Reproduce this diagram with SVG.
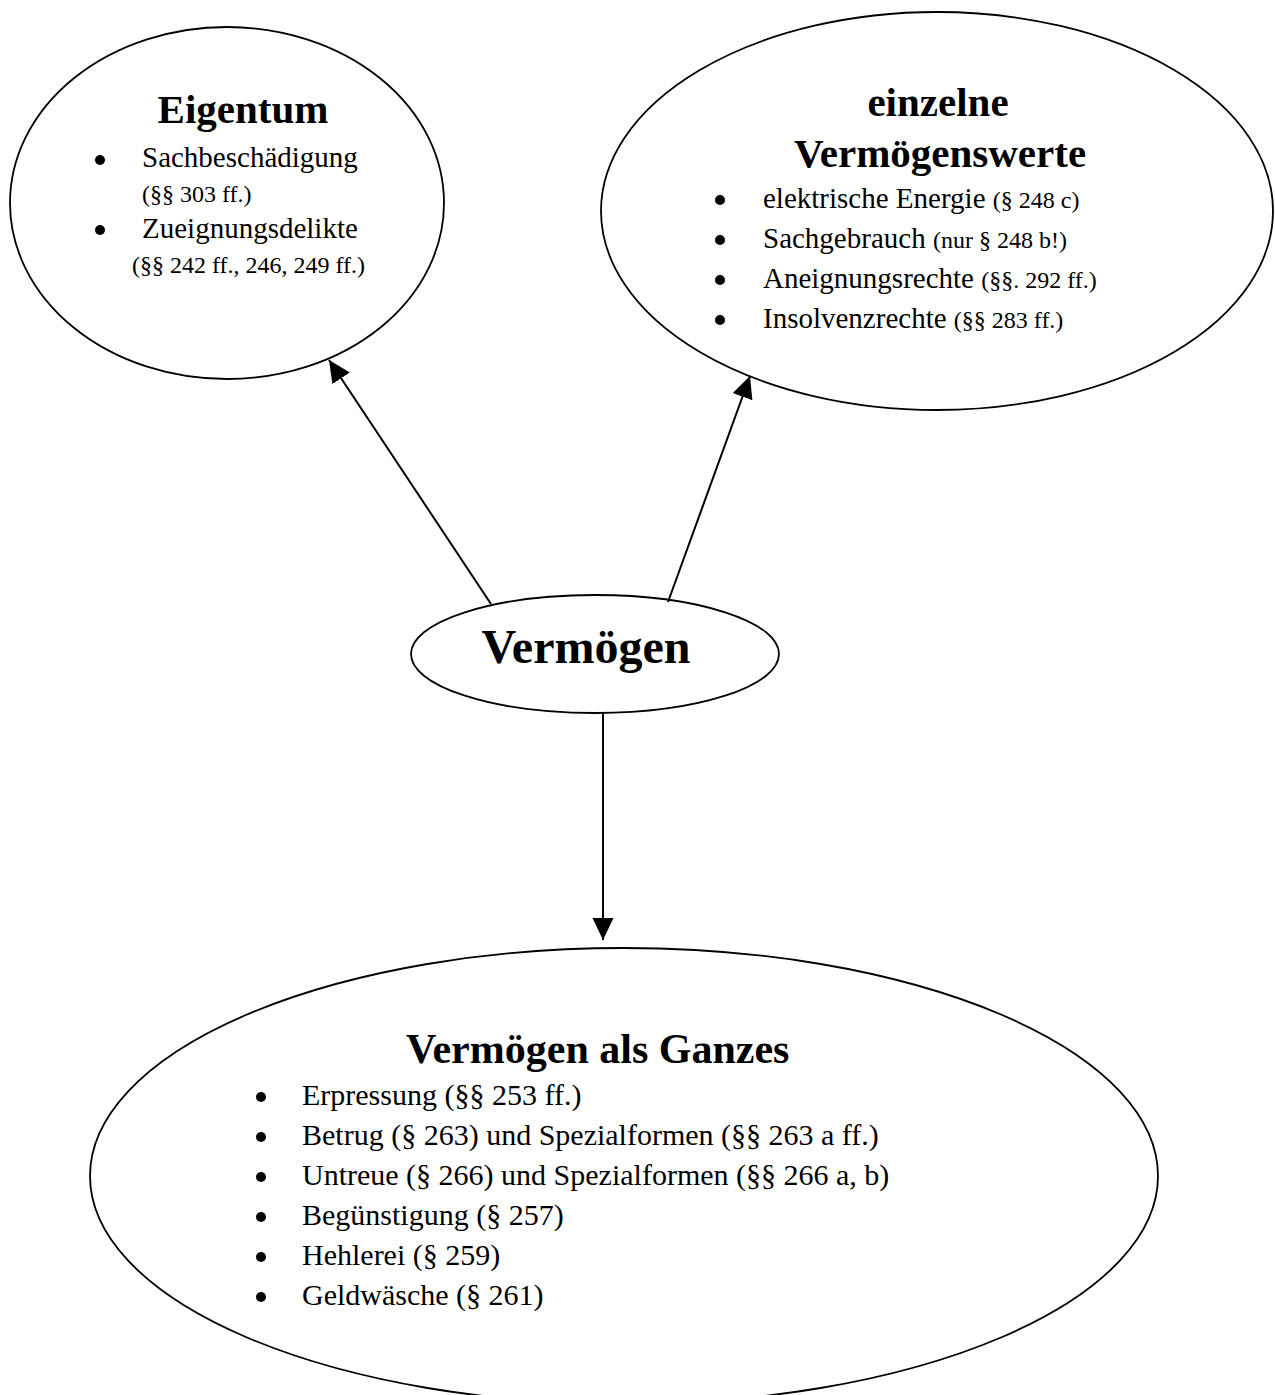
<svg xmlns="http://www.w3.org/2000/svg" width="1275" height="1395" viewBox="0 0 1275 1395">
<style>
.node{fill:#fff;stroke:#000;stroke-width:1.8}
.t{font-family:"Liberation Serif","Times New Roman",serif;fill:#000}
.h{font-weight:bold;font-size:41px}
.m{font-size:29px}
.s{font-size:24px}
.s2{font-size:24px}
.b{font-size:30px}
.edge{stroke:#000;stroke-width:2;fill:none}
</style>
<defs>
<marker id="ah" markerUnits="userSpaceOnUse" markerWidth="24" markerHeight="22" refX="22" refY="10.5" orient="auto">
<path d="M0,0 L22,10.5 L0,21 z" fill="#000"/>
</marker>
</defs>
<rect width="1275" height="1395" fill="#fff"/>
<g id="eigentum">
<ellipse class="node" cx="227" cy="203" rx="217" ry="176"/>
<text class="t h" x="243" y="123" text-anchor="middle">Eigentum</text>
<circle cx="100" cy="160" r="5"/>
<text class="t m" x="142" y="167">Sachbeschädigung</text>
<text class="t s" x="142" y="202">(§§ 303 ff.)</text>
<circle cx="100" cy="230" r="5"/>
<text class="t m" x="142" y="238">Zueignungsdelikte</text>
<text class="t s" x="132" y="273">(§§ 242 ff., 246, 249 ff.)</text>
</g>
<g id="einzelne">
<ellipse class="node" cx="937" cy="211" rx="336" ry="199"/>
<text class="t h" x="938" y="116" text-anchor="middle">einzelne</text>
<text class="t h" x="940" y="167" text-anchor="middle">Vermögenswerte</text>
<circle cx="720" cy="200" r="5"/>
<text class="t m" x="763" y="208">elektrische Energie <tspan class="s2">(§ 248 c)</tspan></text>
<circle cx="720" cy="240" r="5"/>
<text class="t m" x="763" y="248">Sachgebrauch <tspan class="s2">(nur § 248 b!)</tspan></text>
<circle cx="720" cy="280" r="5"/>
<text class="t m" x="763" y="288">Aneignungsrechte <tspan class="s2">(§§. 292 ff.)</tspan></text>
<circle cx="720" cy="320" r="5"/>
<text class="t m" x="763" y="328">Insolvenzrechte <tspan class="s2">(§§ 283 ff.)</tspan></text>
</g>
<g id="vermoegen">
<ellipse class="node" cx="595" cy="654" rx="184" ry="59"/>
<text class="t" x="586" y="663" text-anchor="middle" font-weight="bold" font-size="48">Vermögen</text>
</g>
<g id="ganzes">
<ellipse class="node" cx="624" cy="1176" rx="534" ry="228"/>
<text class="t" x="406" y="1063" font-weight="bold" font-size="42">Vermögen als Ganzes</text>
<circle cx="261" cy="1097" r="5"/>
<text class="t b" x="302" y="1105">Erpressung (§§ 253 ff.)</text>
<circle cx="261" cy="1137" r="5"/>
<text class="t b" x="302" y="1145">Betrug (§ 263) und Spezialformen (§§ 263 a ff.)</text>
<circle cx="261" cy="1177" r="5"/>
<text class="t b" x="302" y="1185">Untreue (§ 266) und Spezialformen (§§ 266 a, b)</text>
<circle cx="261" cy="1217" r="5"/>
<text class="t b" x="302" y="1225">Begünstigung (§ 257)</text>
<circle cx="261" cy="1257" r="5"/>
<text class="t b" x="302" y="1265">Hehlerei (§ 259)</text>
<circle cx="261" cy="1297" r="5"/>
<text class="t b" x="302" y="1305">Geldwäsche (§ 261)</text>
</g>
<g id="connectors">
<line class="edge" x1="491" y1="604" x2="329" y2="360" marker-end="url(#ah)"/>
<line class="edge" x1="668" y1="602" x2="750" y2="376" marker-end="url(#ah)"/>
<line class="edge" x1="603" y1="713" x2="603" y2="940" marker-end="url(#ah)"/>
</g>
</svg>
